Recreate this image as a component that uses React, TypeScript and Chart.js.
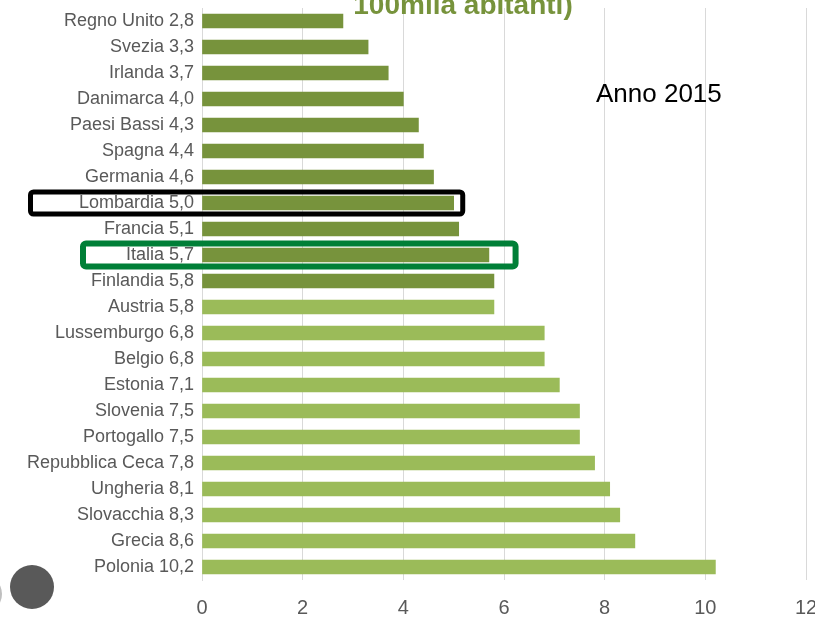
import React, { useEffect, useRef } from "react";
import { Chart, registerables } from "chart.js";

Chart.register(...registerables);

const countries: string[] = [
  "Regno Unito", "Svezia", "Irlanda", "Danimarca", "Paesi Bassi", "Spagna",
  "Germania", "Lombardia", "Francia", "Italia", "Finlandia", "Austria",
  "Lussemburgo", "Belgio", "Estonia", "Slovenia", "Portogallo",
  "Repubblica Ceca", "Ungheria", "Slovacchia", "Grecia", "Polonia",
];
const values: number[] = [
  2.8, 3.3, 3.7, 4.0, 4.3, 4.4, 4.6, 5.0, 5.1, 5.7, 5.8, 5.8,
  6.8, 6.8, 7.1, 7.5, 7.5, 7.8, 8.1, 8.3, 8.6, 10.2,
];
const darkCount = 11; // first rows in dark green (up to Finlandia)
const xTicks: number[] = [0, 2, 4, 6, 8, 10, 12];
const titleText = "100mila abitanti)";
const yearText = "Anno 2015";

const DARK = "#77933C";
const LIGHT = "#9BBB59";
const FONT = "'Liberation Sans', Arial, sans-serif";

const labels = countries.map(
  (c, i) => `${c} ${values[i].toFixed(1).replace(".", ",")}`
);

const overlayPlugin = {
  id: "overlay",
  afterDraw(chart: any) {
    const ctx = chart.ctx as CanvasRenderingContext2D;
    const x = chart.scales.x;
    const y = chart.scales.y;
    ctx.save();
    // title fragment (cut at top)
    ctx.fillStyle = DARK;
    ctx.font = `bold 28px ${FONT}`;
    ctx.textAlign = "center";
    ctx.textBaseline = "alphabetic";
    ctx.fillText(titleText, 463, 14);
    // year label
    ctx.fillStyle = "#000000";
    ctx.font = `26px ${FONT}`;
    ctx.textAlign = "left";
    ctx.fillText(yearText, 596, 102);

    const box = (idx: number, left: number, rightVal: number, half: number, lw: number, color: string) => {
      const cy = y.getPixelForValue(idx);
      const r = x.getPixelForValue(rightVal);
      ctx.beginPath();
      ctx.lineWidth = lw;
      ctx.strokeStyle = color;
      const w = r - left;
      const h = half * 2;
      if ((ctx as any).roundRect) (ctx as any).roundRect(left, cy - half, w, h, 3);
      else ctx.rect(left, cy - half, w, h);
      ctx.stroke();
    };
    box(countries.indexOf("Lombardia"), 30.5, 5.18, 11, 5, "#000000");
    box(countries.indexOf("Italia"), 83, 6.23, 11.5, 6, "#007F37");

    // decorative circle bottom-left
    ctx.beginPath();
    ctx.fillStyle = "#595959";
    ctx.arc(32, 587, 22, 0, Math.PI * 2);
    ctx.fill();
    ctx.beginPath();
    ctx.fillStyle = "#bfbfbf";
    ctx.arc(-17, 594, 19, 0, Math.PI * 2);
    ctx.fill();
    ctx.restore();
  },
};

export default function App() {
  const ref = useRef<HTMLCanvasElement | null>(null);
  useEffect(() => {
    document.body.style.margin = "0";
    document.body.style.overflow = "hidden";
    if (!ref.current) return;
    const chart = new Chart(ref.current, {
      type: "bar",
      data: {
        labels,
        datasets: [
          {
            data: values,
            backgroundColor: values.map((_, i) => (i < darkCount ? DARK : LIGHT)),
            barThickness: 14,
            borderWidth: 0,
          },
        ],
      },
      options: {
        indexAxis: "y",
        animation: false,
        responsive: false,
        devicePixelRatio: 1,
        layout: { padding: { top: 8, right: 24, left: 0, bottom: 0 } },
        plugins: {
          legend: { display: false },
          tooltip: { enabled: false },
          title: { display: false },
        },
        scales: {
          x: {
            min: 0,
            max: 12,
            afterBuildTicks: (scale: any) => {
              scale.ticks = xTicks.map((v) => ({ value: v }));
            },
            afterFit: (scale: any) => {
              scale.height = 37;
              scale.paddingLeft = 0;
              scale.paddingRight = 0;
            },
            grid: { color: "#d9d9d9", lineWidth: 1, drawTicks: false },
            border: { display: false },
            ticks: {
              padding: 16,
              color: "#595959",
              font: { family: FONT, size: 20 },
              callback: (v: any) => String(v),
            },
          },
          y: {
            afterFit: (scale: any) => {
              scale.width = 202;
              scale.paddingTop = 0;
              scale.paddingBottom = 0;
            },
            grid: { display: false, drawTicks: false },
            border: { display: true, color: "#d9d9d9", width: 1 },
            ticks: {
              padding: 8,
              color: "#595959",
              autoSkip: false,
              font: { family: FONT, size: 18 },
            },
          },
        },
      },
      plugins: [overlayPlugin],
    });
    return () => chart.destroy();
  }, []);
  return (
    <div
      style={{
        position: "fixed",
        left: 0,
        top: 0,
        width: 815,
        height: 617,
        overflow: "hidden",
        background: "#ffffff",
      }}
    >
      <canvas ref={ref} width={830} height={617} style={{ display: "block" }} />
    </div>
  );
}
